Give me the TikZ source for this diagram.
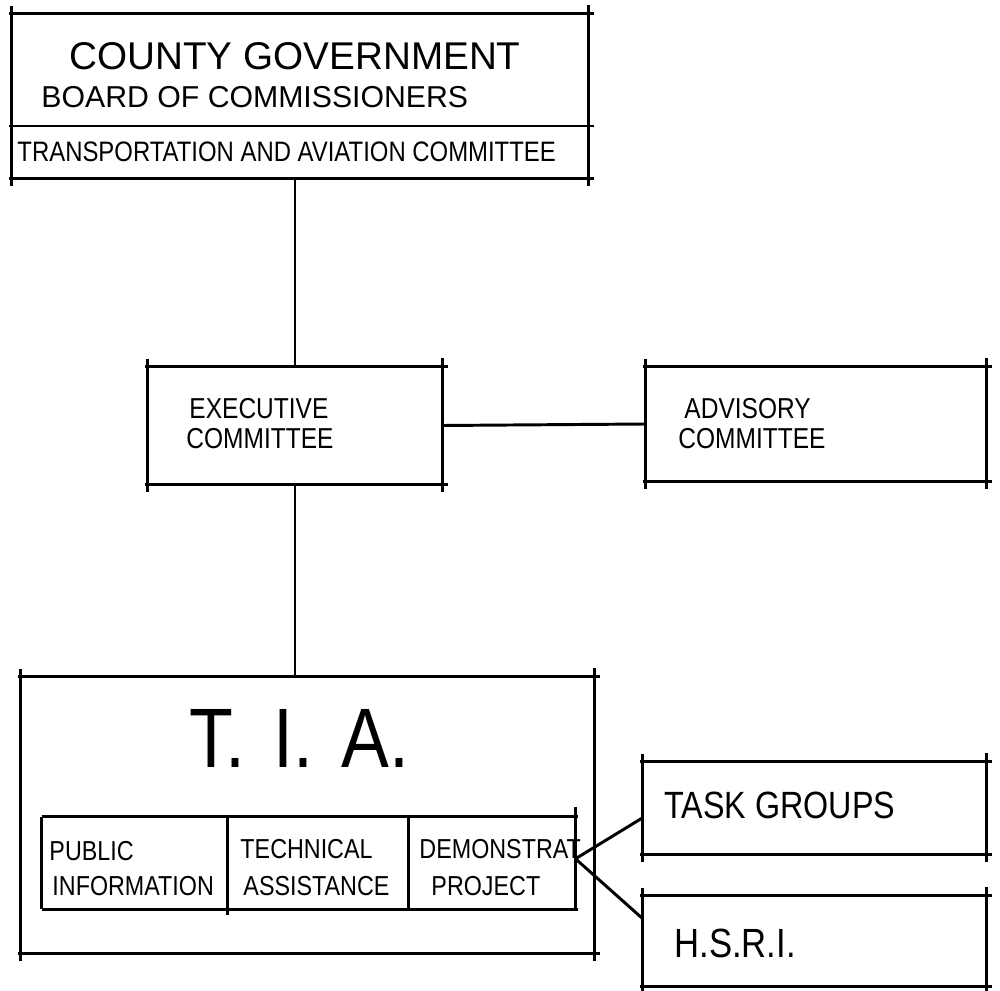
\documentclass[tikz,border=0pt]{standalone}
\usepackage{fontspec}
\setmainfont[FakeStretch=0.85]{Liberation Sans}
\newfontfamily\handwide{Liberation Sans}
\usetikzlibrary{fit,calc}
\tikzset{every picture/.style={line width=2.1pt}}

\tikzset{
  box/.style={inner sep=0pt, draw=none},
  hand/.style={anchor=base west, inner sep=0pt},
}

% box outline with the corner overshoot of a freehand sketch
\newcommand{\sketchframe}[1]{%
  \draw ([xshift=-2pt]#1.north west) -- ([xshift=4pt]#1.north east);
  \draw ([xshift=-2pt]#1.south west) -- ([xshift=4pt]#1.south east);
  \draw ([yshift=5pt]#1.north west) -- ([yshift=-5pt]#1.south west);
  \draw ([yshift=6pt]#1.north east) -- ([yshift=-5pt]#1.south east);
}

\begin{document}
\begin{tikzpicture}[x=0.025cm, y=-0.025cm]
    \useasboundingbox (0,0) rectangle (1000,991);

    % boxes
    \node[box, fit={(13,15) (587,177)}] (county) {};
    \node[box, fit={(149,368) (441,483)}] (exec) {};
    \node[box, fit={(647,368) (985,480)}] (adv) {};
    \node[box, fit={(22,678) (593,952)}] (tia) {};
    \node[box, fit={(43,818) (226,908)}] (pub) {};
    \node[box, fit={(226,818) (407,908)}] (tech) {};
    \node[box, fit={(407,818) (574,908)}] (demo) {};
    \node[box, fit={(644,763) (985,853)}] (task) {};
    \node[box, fit={(644,897) (985,985)}] (hsri) {};

    \sketchframe{county}
    \sketchframe{exec}
    \sketchframe{adv}
    \sketchframe{tia}
    \sketchframe{task}
    \sketchframe{hsri}

    % committee strip under the board
    \coordinate (split) at (0,126);
    \draw ([xshift=-2pt]county.west |- split) -- ([xshift=4pt]county.east |- split);

    % table of the three programmes
    \draw (pub.north west) -- ([xshift=2pt]demo.north east);
    \draw (pub.south west) -- ([xshift=2pt]demo.south east);
    \draw (pub.north west) -- (pub.south west);
    \draw (pub.north east) -- ([yshift=-4pt]pub.south east);
    \draw (tech.north east) -- (tech.south east);
    \draw ([yshift=7pt]demo.north east) -- (demo.south east);

    % texts
    \node[hand, font=\handwide\fontsize{27.5}{30}\selectfont] (countyname) at (68,70) {COUNTY GOVERNMENT};
    \node[hand, font=\handwide\fontsize{21.5}{24}\selectfont] (board) at (40,108) {BOARD OF COMMISSIONERS};
    \node[hand, font=\fontsize{20}{23}\selectfont] (tac) at (16,162) {TRANSPORTATION AND AVIATION COMMITTEE};

    \node[hand, font=\fontsize{20.5}{23}\selectfont] (exec1) at (188,418) {EXECUTIVE};
    \node[hand, font=\fontsize{20.5}{23}\selectfont] (exec2) at (185,448) {COMMITTEE};
    \node[hand, font=\fontsize{20.5}{23}\selectfont] (adv1) at (683,418) {ADVISORY};
    \node[hand, font=\fontsize{20.5}{23}\selectfont] (adv2) at (677,448) {COMMITTEE};

    \node[hand, font=\fontsize{60}{64}\selectfont] (tianame) at (188,767) {T.\,\,I.\,\,A.};

    \node[hand, font=\fontsize{19.5}{22}\selectfont] (pub1) at (48,860) {PUBLIC};
    \node[hand, font=\fontsize{19.5}{22}\selectfont] (pub2) at (51,895) {INFORMATION};
    \node[hand, font=\fontsize{19.5}{22}\selectfont] (tech1) at (239,858) {TECHNICAL};
    \node[hand, font=\fontsize{19.5}{22}\selectfont] (tech2) at (242,895) {ASSISTANCE};
    \node[hand, font=\fontsize{19.5}{22}\selectfont] (demo1) at (418,858) {DEMONSTRAT};
    \node[hand, font=\fontsize{19.5}{22}\selectfont] (demo2) at (430,895) {PROJECT};

    \node[hand, font=\fontsize{27}{30}\selectfont] (taskname) at (663,818) {TASK GROUPS};
    \node[hand, font=\fontsize{29}{32}\selectfont] (hsriname) at (673,957) {H.S.R.I.};

    % connectors
    \draw (exec.north) -- (exec.north |- county.south);
    \draw (exec.east) -- (adv.west);
    \draw (exec.south) -- (exec.south |- tia.north);
    \draw ([yshift=3pt]demo.east) -- ([yshift=-7pt]task.west);
    \draw ([yshift=3pt]demo.east) -- ([yshift=16pt]hsri.west);
\end{tikzpicture}
\end{document}
